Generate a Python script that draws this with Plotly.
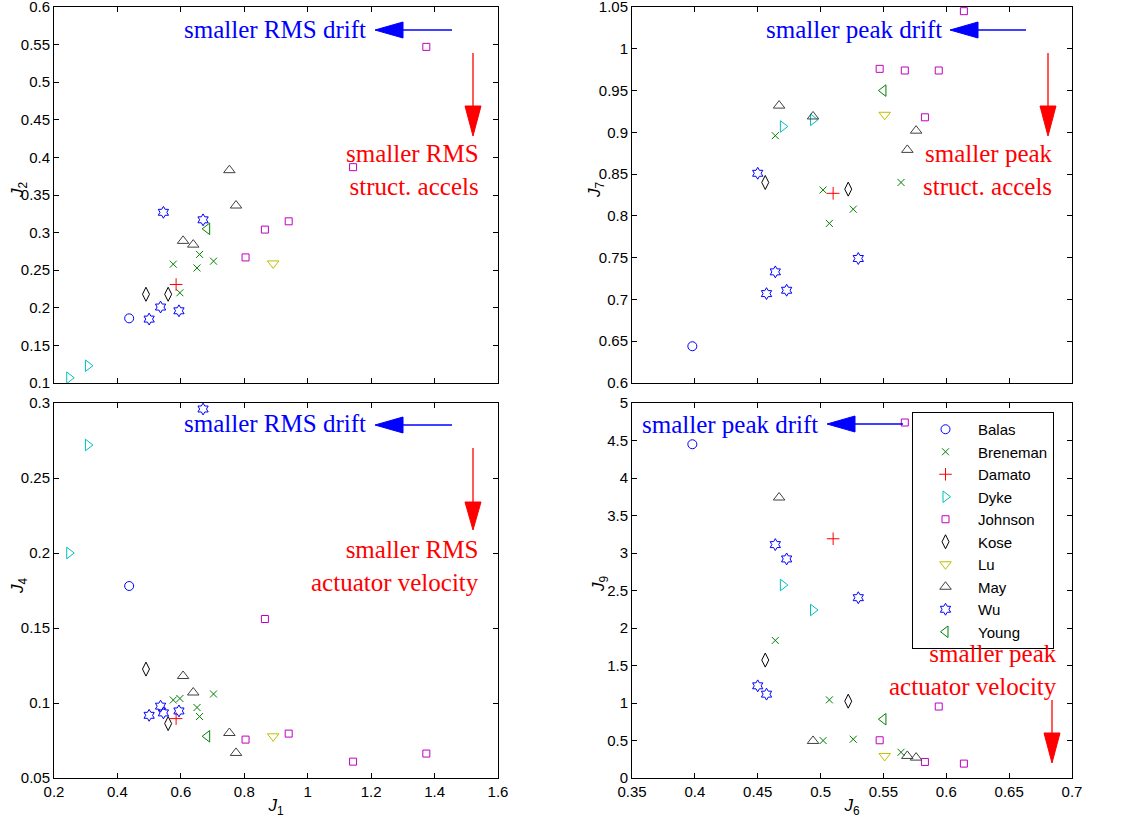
import plotly.graph_objects as go

W, H = 1125, 819

methods = ["Balas", "Breneman", "Damato", "Dyke", "Johnson", "Kose", "Lu", "May", "Wu", "Young"]

# J1, J2, J4 (left panels)
J1 = {
    "Balas": [0.437],
    "Breneman": [0.576, 0.597, 0.651, 0.659, 0.703],
    "Damato": [0.585],
    "Dyke": [0.248, 0.307],
    "Johnson": [0.804, 0.865, 0.940, 1.143, 1.374],
    "Kose": [0.490, 0.560],
    "Lu": [0.891],
    "May": [0.607, 0.639, 0.753, 0.774],
    "Wu": [0.500, 0.536, 0.545, 0.594, 0.670],
    "Young": [0.683],
}
J2 = {
    "Balas": [0.186],
    "Breneman": [0.258, 0.220, 0.253, 0.271, 0.262],
    "Damato": [0.231],
    "Dyke": [0.107, 0.123],
    "Johnson": [0.267, 0.304, 0.315, 0.387, 0.547],
    "Kose": [0.218, 0.218],
    "Lu": [0.259],
    "May": [0.289, 0.284, 0.383, 0.336],
    "Wu": [0.185, 0.201, 0.327, 0.196, 0.317],
    "Young": [0.305],
}
J4 = {
    "Balas": [0.178],
    "Breneman": [0.102, 0.103, 0.097, 0.091, 0.106],
    "Damato": [0.0896],
    "Dyke": [0.200, 0.272],
    "Johnson": [0.0756, 0.156, 0.0796, 0.0609, 0.0663],
    "Kose": [0.1226, 0.0863],
    "Lu": [0.0778],
    "May": [0.118, 0.107, 0.080, 0.0667],
    "Wu": [0.0918, 0.0979, 0.0934, 0.0947, 0.296],
    "Young": [0.0778],
}
# J6, J7, J9 (right panels)
J6 = {
    "Balas": [0.398],
    "Breneman": [0.464, 0.502, 0.507, 0.526, 0.564],
    "Damato": [0.510],
    "Dyke": [0.470, 0.494],
    "Johnson": [0.547, 0.567, 0.583, 0.594, 0.614],
    "Kose": [0.456, 0.522],
    "Lu": [0.551],
    "May": [0.467, 0.494, 0.569, 0.576],
    "Wu": [0.450, 0.457, 0.464, 0.473, 0.530],
    "Young": [0.550],
}
J7 = {
    "Balas": [0.644],
    "Breneman": [0.896, 0.831, 0.791, 0.808, 0.840],
    "Damato": [0.827],
    "Dyke": [0.907, 0.915],
    "Johnson": [0.976, 0.974, 0.918, 0.974, 1.045],
    "Kose": [0.840, 0.832],
    "Lu": [0.921],
    "May": [0.932, 0.919, 0.879, 0.902],
    "Wu": [0.851, 0.707, 0.733, 0.711, 0.749],
    "Young": [0.950],
}
J9 = {
    "Balas": [4.45],
    "Breneman": [1.834, 0.499, 1.042, 0.517, 0.343],
    "Damato": [3.19],
    "Dyke": [2.573, 2.24],
    "Johnson": [0.503, 4.74, 0.214, 0.953, 0.192],
    "Kose": [1.572, 1.024],
    "Lu": [0.294],
    "May": [3.74, 0.494, 0.294, 0.272],
    "Wu": [1.229, 1.118, 3.112, 2.921, 2.404],
    "Young": [0.784],
}

style = {
    "Balas": ("circle-open", "#0000FF", 9),
    "Breneman": ("x-thin-open", "#008000", 7),
    "Damato": ("cross-thin-open", "#FF0000", 9),
    "Dyke": ("triangle-right-open", "#00BFBF", 10),
    "Johnson": ("square-open", "#BF00BF", 7),
    "Kose": ("diamond-tall-open", "#000000", 10),
    "Lu": ("triangle-down-open", "#BFBF00", 10),
    "May": ("triangle-up-open", "#404040", 10),
    "Wu": ("hexagram-open", "#0000FF", 9),
    "Young": ("triangle-left-open", "#008000", 10),
}

fig = go.Figure()

panels = [
    ("x", "y", J1, J2),
    ("x2", "y2", J6, J7),
    ("x3", "y3", J1, J4),
    ("x4", "y4", J6, J9),
]
for i, (xa, ya, XD, YD) in enumerate(panels):
    for m in methods:
        sym, col, sz = style[m]
        fig.add_trace(go.Scatter(
            x=XD[m], y=YD[m], mode="markers", name=m,
            xaxis=xa, yaxis=ya, showlegend=(i == 3),
            marker=dict(symbol=sym, size=sz, color=col,
                        line=dict(color=col, width=1)),
            cliponaxis=False,
        ))

def fx(px):
    return px / W

def fy(py):
    return 1 - py / H

dom_x_left = [fx(54), fx(498)]
dom_x_right = [fx(632), fx(1072)]
dom_y_top = [fy(383), fy(7)]
dom_y_bot = [fy(778), fy(403)]

SANS = "Liberation Sans, Arial, sans-serif"
axcommon = dict(showline=True, linecolor="black", linewidth=1, mirror="ticks",
                ticks="inside", ticklen=5, tickcolor="black", showgrid=False,
                zeroline=False, automargin=False, ticklabeloverflow="allow",
                tickfont=dict(family=SANS, size=15, color="black"))

def ttl(t, so):
    return dict(text=t, font=dict(family=SANS, size=17, color="black"), standoff=so)

fig.update_layout(
    width=W, height=H, margin=dict(l=0, r=0, t=0, b=0, autoexpand=False),
    paper_bgcolor="white", plot_bgcolor="white",
    xaxis=dict(domain=dom_x_left, anchor="y", range=[0.2, 1.6], dtick=0.2, showticklabels=False, **axcommon),
    yaxis=dict(domain=dom_y_top, anchor="x", range=[0.1, 0.6], dtick=0.05, **axcommon),
    xaxis2=dict(domain=dom_x_right, anchor="y2", range=[0.35, 0.7], dtick=0.05, showticklabels=False, **axcommon),
    yaxis2=dict(domain=dom_y_top, anchor="x2", range=[0.6, 1.05], dtick=0.05, **axcommon),
    xaxis3=dict(domain=dom_x_left, anchor="y3", range=[0.2, 1.6], dtick=0.2, title=ttl("<i>J</i><sub>1</sub>", 0), **axcommon),
    yaxis3=dict(domain=dom_y_bot, anchor="x3", range=[0.05, 0.3], dtick=0.05, **axcommon),
    xaxis4=dict(domain=dom_x_right, anchor="y4", range=[0.35, 0.7], dtick=0.05, title=ttl("<i>J</i><sub>6</sub>", 0), **axcommon),
    yaxis4=dict(domain=dom_y_bot, anchor="x4", range=[0, 5], dtick=0.5, **axcommon),
    legend=dict(x=fx(912), y=fy(412), xanchor="left", yanchor="top",
                bordercolor="black", borderwidth=1, bgcolor="white",
                font=dict(family=SANS, size=15, color="black"),
                itemwidth=55, tracegroupgap=0),
)

# y-axis titles (rotated), placed like the reference
ytitles = [("<i>J</i><sub>2</sub>", 19, 190), ("<i>J</i><sub>7</sub>", 596, 190),
           ("<i>J</i><sub>4</sub>", 19, 586), ("<i>J</i><sub>9</sub>", 600, 584)]
for t, x, y in ytitles:
    fig.add_annotation(text=t, x=fx(x), y=fy(y), xref="paper", yref="paper", xanchor="center", yanchor="middle",
                       textangle=-90, showarrow=False, borderpad=0,
                       font=dict(family=SANS, size=17, color="black"))

SERIF = "Liberation Serif, Times New Roman, serif"
blue_txt = [("smaller RMS drift", 367, 30), ("smaller peak drift", 943, 30),
            ("smaller RMS drift", 367, 423), ("smaller peak drift", 819, 424)]
red_txt = [("smaller RMS<br>struct. accels", 480, 170), ("smaller peak<br>struct. accels", 1054, 170),
           ("smaller RMS<br>actuator velocity", 480, 566), ("smaller peak<br>actuator velocity", 1058, 670)]
for t, x, y in blue_txt:
    fig.add_annotation(text=t, x=fx(x), y=fy(y), xref="paper", yref="paper", xanchor="right", yanchor="middle",
                       showarrow=False, borderpad=0, font=dict(family=SERIF, size=25, color="#0000FF"))
for t, x, y in red_txt:
    fig.add_annotation(text=t, x=fx(x), y=fy(y), xref="paper", yref="paper", xanchor="right", yanchor="middle",
                       align="right", showarrow=False, borderpad=0, font=dict(family=SERIF, size=25, color="#FF0000"))

# arrows: (tail_x, tip_x, base_x, y) horizontal, (x, tail_y, tip_y, base_y) vertical
h_arrows = [(452, 375, 403, 30), (1026, 950, 978, 30), (452, 375, 403, 425), (903, 827, 855, 424)]
v_arrows = [(473, 53, 136, 106), (1048, 53, 136, 106), (473, 448, 530, 502), (1052, 700, 763, 733)]
hw = 8
for tx, tip, base, y in h_arrows:
    fig.add_shape(type="line", xref="paper", yref="paper", x0=fx(tx), x1=fx(base), y0=fy(y), y1=fy(y),
                  line=dict(color="#0000FF", width=1.3))
    fig.add_shape(type="path", xref="paper", yref="paper",
                  path=f"M {fx(tip)},{fy(y)} L {fx(base)},{fy(y - hw)} L {fx(base)},{fy(y + hw)} Z",
                  fillcolor="#0000FF", line=dict(color="#0000FF", width=1))
for x, ty, tip, base in v_arrows:
    fig.add_shape(type="line", xref="paper", yref="paper", x0=fx(x), x1=fx(x), y0=fy(ty), y1=fy(base),
                  line=dict(color="#FF0000", width=1.3))
    fig.add_shape(type="path", xref="paper", yref="paper",
                  path=f"M {fx(x)},{fy(tip)} L {fx(x - hw)},{fy(base)} L {fx(x + hw)},{fy(base)} Z",
                  fillcolor="#FF0000", line=dict(color="#FF0000", width=1))

# remove the browser's default 8px body margin so the 1125x819 figure fills the window
fig.write_html("out.html", config={"displayModeBar": False},
               post_script="document.body.style.margin='0';")
